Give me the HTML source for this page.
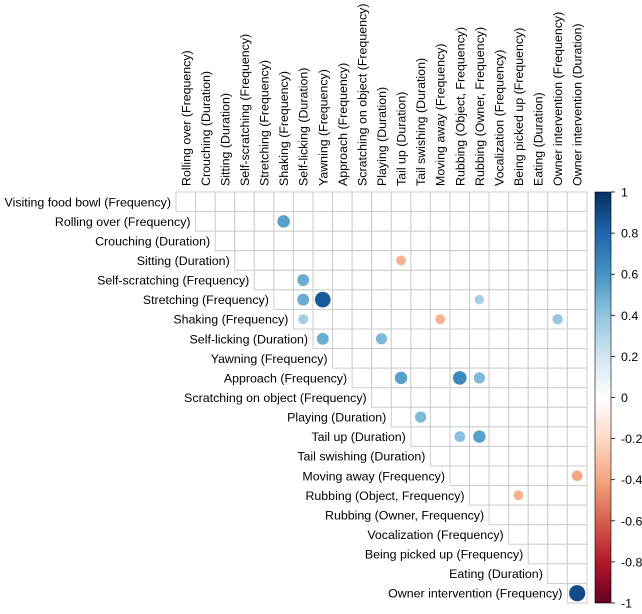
<!DOCTYPE html>
<html><head><meta charset="utf-8"><style>
html,body{margin:0;padding:0;background:#fff}
text{font-family:"Liberation Sans",Arial,sans-serif;font-size:12.4px;fill:#000}
</style></head><body>
<svg width="642" height="609" xmlns="http://www.w3.org/2000/svg">
<defs><linearGradient id="g" x1="0" y1="0" x2="0" y2="1">
<stop offset="0" stop-color="#053061"/><stop offset="0.1" stop-color="#2166AC"/><stop offset="0.2" stop-color="#4393C3"/><stop offset="0.3" stop-color="#92C5DE"/><stop offset="0.4" stop-color="#D1E5F0"/><stop offset="0.5" stop-color="#FFFFFF"/><stop offset="0.6" stop-color="#FDDBC7"/><stop offset="0.7" stop-color="#F4A582"/><stop offset="0.8" stop-color="#D6604D"/><stop offset="0.9" stop-color="#B2182B"/><stop offset="1" stop-color="#67001F"/>
</linearGradient></defs>
<g id="grid"></g>
<g id="labels"></g>
<g id="circ"></g>
<rect x="595" y="192" width="16" height="411" fill="url(#g)" stroke="#000" stroke-width="0.6"/>
<g id="cb"></g>
</svg>
<script>
var ns="http://www.w3.org/2000/svg";
function el(t,a,p,txt){var e=document.createElementNS(ns,t);for(var k in a)e.setAttribute(k,a[k]);if(txt!==undefined)e.textContent=txt;document.getElementById(p).appendChild(e);return e;}
var names=["Visiting food bowl (Frequency)","Rolling over (Frequency)","Crouching (Duration)","Sitting (Duration)","Self-scratching (Frequency)","Stretching (Frequency)","Shaking (Frequency)","Self-licking (Duration)","Yawning (Frequency)","Approach (Frequency)","Scratching on object (Frequency)","Playing (Duration)","Tail up (Duration)","Tail swishing (Duration)","Moving away (Frequency)","Rubbing (Object, Frequency)","Rubbing (Owner, Frequency)","Vocalization (Frequency)","Being picked up (Frequency)","Eating (Duration)","Owner intervention (Frequency)","Owner intervention (Duration)"];
var L=176,T=192,C=19.57;
for(var i=0;i<21;i++){
 for(var j=i;j<21;j++) el("rect",{x:L+j*C,y:T+i*C,width:C,height:C,fill:"#fff",stroke:"#cccccc","stroke-width":1},"grid");
 el("text",{x:L+i*C-5,y:T+i*C+C/2+4.5,"text-anchor":"end"},"labels",names[i]);
 var cx=L+i*C+C/2+4.5;
 el("text",{x:0,y:0,transform:"translate("+cx+",186) rotate(-90)"},"labels",names[i+1]);
}
var cs=[[1,5,0.55],[3,11,-0.35],[4,6,0.5],[5,6,0.5],[5,7,0.85],[5,15,0.33],[6,6,0.35],[6,13,-0.35],[6,19,0.38],[7,7,0.5],[7,10,0.45],[9,11,0.55],[9,14,0.65],[9,15,0.45],[11,12,0.45],[12,14,0.42],[12,15,0.55],[14,20,-0.4],[15,17,-0.35],[20,20,0.9]];
function col(v){
 var pos=[[0,"#FFFFFF"],[0.2,"#D1E5F0"],[0.4,"#92C5DE"],[0.6,"#4393C3"],[0.8,"#2166AC"],[1,"#053061"]];
 var neg=[[0,"#FFFFFF"],[0.2,"#FDDBC7"],[0.4,"#F4A582"],[0.6,"#D6604D"],[0.8,"#B2182B"],[1,"#67001F"]];
 var s=v<0?neg:pos,a=Math.abs(v);
 for(var k=0;k<5;k++){if(a<=s[k+1][0]){var f=(a-s[k][0])/0.2;return mix(s[k][1],s[k+1][1],f);}}
 return s[5][1];
}
function mix(a,b,f){var r="#";for(var k=1;k<7;k+=2){var x=parseInt(a.substr(k,2),16),y=parseInt(b.substr(k,2),16);var z=Math.round(x+(y-x)*f).toString(16);r+=(z.length<2?"0":"")+z;}return r;}
cs.forEach(function(c){el("circle",{cx:L+c[1]*C+C/2,cy:T+c[0]*C+C/2,r:8.8*Math.sqrt(Math.abs(c[2])),fill:col(c[2]),stroke:"#fff","stroke-width":0.5},"circ");});
for(var k=0;k<=10;k++){var v=1-k*0.2;var y=192+k*41.1;el("line",{x1:611,x2:615,y1:y,y2:y,stroke:"#000","stroke-width":0.8},"cb");
 var s=Math.abs(v)<1e-9?"0":(Math.round(v*10)/10).toString();el("text",{x:621,y:y+4.5},"cb",s);}
</script>
</body></html>
